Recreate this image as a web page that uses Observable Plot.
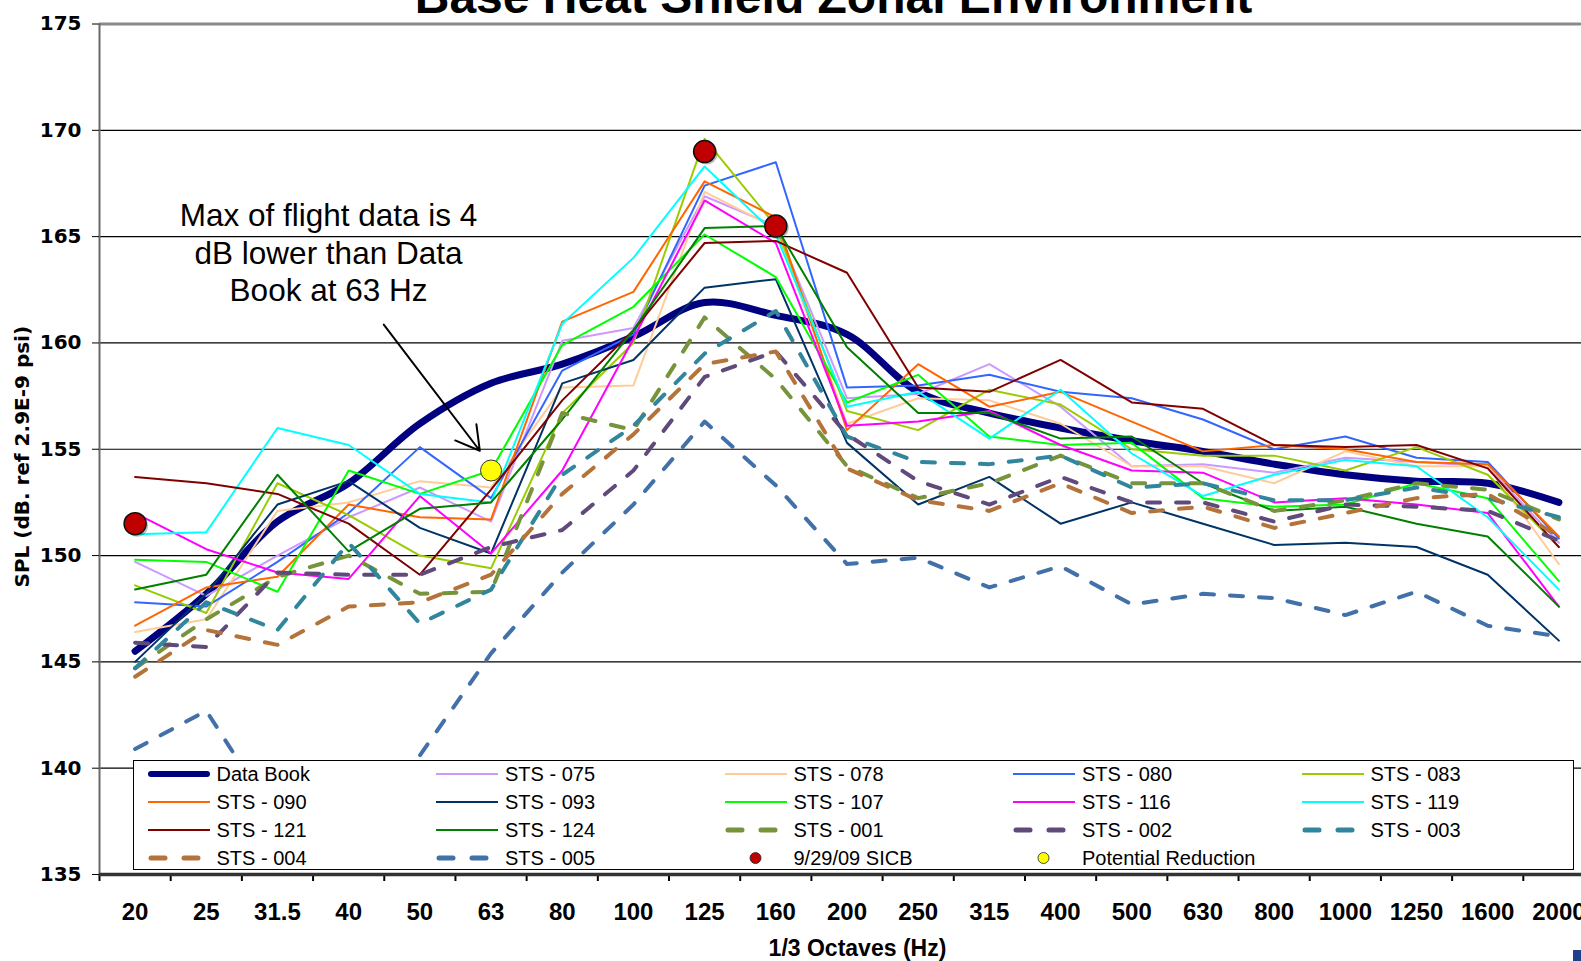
<!DOCTYPE html>
<html>
<head>
<meta charset="utf-8">
<script src="https://cdn.jsdelivr.net/npm/d3@7"></script>
<script src="https://cdn.jsdelivr.net/npm/@observablehq/plot@0.6"></script>
<style>
html, body { margin:0; padding:0; overflow:hidden; background:#fff; width:1581px; height:961px; }
#wrap { position:relative; width:1594px; height:961px; }
#wrap svg { max-width:none !important; position:absolute; left:0; top:0; }
#legend { position:absolute; left:132.5px; top:759.5px; width:1441px; height:110.5px; box-sizing:border-box;
  border:1.5px solid #000; background:#fff; font-family:"Liberation Sans", Arial, sans-serif; font-size:20px; color:#000; }
#legend .sw { position:absolute; width:66px; height:16px; overflow:visible; }
#legend .lb { position:absolute; height:24px; line-height:24px; white-space:nowrap; }
#corner { position:absolute; left:1573px; top:950px; width:10px; height:11px; background:#1f3f8f; }
</style>
</head>
<body>
<div id="wrap"><div id="legend"></div><div id="corner"></div></div>
<script>
// ---- data ----
const categories = ["20","25","31.5","40","50","63","80","100","125","160","200","250","315","400","500","630","800","1000","1250","1600","2000"];
const yTicks = [135,140,145,150,155,160,165,170,175];

const dataBook = [145.5,148.2,151.6,153.4,156.2,158.1,159.0,160.3,161.9,161.3,160.4,157.7,156.7,156.0,155.4,154.9,154.3,153.8,153.5,153.4,152.5];
const sts075 = [149.7,148.1,150.0,151.8,153.2,151.6,160.1,160.7,166.9,165.5,157.4,157.6,159.0,157.0,154.2,154.3,153.9,154.6,154.4,154.2,150.6];
const sts078 = [146.4,147.0,152.1,152.5,153.5,153.2,157.9,158.0,167.1,165.4,156.2,157.4,157.3,156.2,154.2,154.2,153.4,154.9,154.2,154.2,149.6];
const sts080 = [147.8,147.6,149.7,152.0,155.1,152.7,158.7,160.4,167.4,168.5,157.9,158.0,158.5,157.7,157.4,156.4,155.0,155.6,154.6,154.4,150.8];
const sts083 = [148.6,147.3,153.4,151.9,150.0,149.4,156.7,160.0,169.6,165.5,156.8,155.9,157.8,157.1,155.0,154.7,154.7,154.0,155.1,153.8,150.4];
const sts090 = [146.7,148.5,149.0,152.4,151.8,151.7,161.0,162.4,167.6,165.9,155.9,159.0,157.0,157.7,156.3,154.9,155.2,155.0,154.4,154.3,150.9];
const sts093 = [145.0,148.2,152.4,153.5,151.3,150.1,158.1,159.2,162.6,163.0,155.3,152.4,153.7,151.5,152.5,151.5,150.5,150.6,150.4,149.1,146.0];
const sts107 = [149.8,149.7,148.3,154.0,152.9,154.0,159.9,161.7,165.1,163.1,157.2,158.5,155.6,155.2,155.3,152.7,152.3,152.4,153.4,152.7,148.8];
const sts116 = [152.0,150.3,149.2,148.9,152.8,150.1,154.0,160.2,166.7,164.7,156.1,156.3,156.8,155.2,154.0,153.9,152.5,152.7,152.4,152.0,147.6];
const sts119 = [151.0,151.1,156.0,155.2,152.9,152.5,160.9,164.0,168.3,165.1,157.0,157.7,155.5,157.8,154.8,152.8,153.8,154.5,154.2,151.8,148.4];
const sts121 = [153.7,153.4,152.9,151.5,149.1,153.1,157.3,160.6,164.7,164.8,163.3,157.9,157.7,159.2,157.2,156.9,155.2,155.1,155.2,154.1,150.4];
const sts124 = [148.4,149.1,153.8,150.2,152.2,152.5,156.4,160.6,165.4,165.5,159.8,156.7,156.7,155.5,155.6,153.4,152.1,152.3,151.5,150.9,147.6];
const sts001 = [144.7,147.0,149.0,150.0,148.2,148.3,156.7,155.9,161.2,158.3,154.2,152.7,153.4,154.7,153.4,153.4,152.1,152.6,153.4,153.1,151.7];
const sts002 = [145.9,145.7,149.2,149.1,149.1,150.4,151.2,154.0,158.4,159.6,155.7,153.5,152.4,153.7,152.5,152.5,151.6,152.4,152.3,152.1,150.7];
const sts003 = [144.7,147.8,146.5,150.6,146.8,148.4,153.8,156.1,159.5,161.5,155.6,154.4,154.3,154.7,153.2,153.4,152.6,152.6,153.2,152.7,151.8];
const sts004 = [144.3,146.5,145.8,147.6,147.8,149.1,152.9,155.7,159.0,159.6,154.1,152.6,152.1,153.4,152.0,152.3,151.3,152.0,152.7,152.9,150.9];
const sts005 = [140.9,142.7,137.5,137.8,140.6,145.4,149.2,152.4,156.3,153.3,149.6,149.9,148.5,149.5,147.7,148.2,148.0,147.2,148.3,146.7,146.2];

const seriesNames  = ["Data Book","STS - 075","STS - 078","STS - 080","STS - 083","STS - 090","STS - 093","STS - 107","STS - 116","STS - 119","STS - 121","STS - 124","STS - 001","STS - 002","STS - 003","STS - 004","STS - 005"];
const seriesValues = [dataBook,sts075,sts078,sts080,sts083,sts090,sts093,sts107,sts116,sts119,sts121,sts124,sts001,sts002,sts003,sts004,sts005];
const seriesColors = ["#000080","#CC99FF","#FFCC99","#3366FF","#99CC00","#FF6600","#003366","#00FF00","#FF00FF","#00FFFF","#800000","#008000","#77933C","#604A7B","#31859C","#B4733A","#4270A8"];
const seriesDashed = [false,false,false,false,false,false,false,false,false,false,false,false,true,true,true,true,true];

const sicbCat = ["20","125","160"];
const sicbVal = [151.5,169.0,165.5];
const reductionCat = ["63"];
const reductionVal = [154.0];

const annotationText = "Max of flight data is 4\ndB lower than Data\nBook at 63 Hz";
const titleText = "Base Heat Shield Zonal Environment";
const xTitle = "1/3 Octaves (Hz)";
const yTitle = "SPL (dB. ref 2.9E-9 psi)";

// ---- build ----
const idx = c => categories.indexOf(c);
const sicb = sicbCat.map((c,k) => ({i: idx(c), v: sicbVal[k]}));
const reduction = reductionCat.map((c,k) => ({i: idx(c), v: reductionVal[k]}));

const lineMarks = seriesNames.map((name,k) => {
  const pts = seriesValues[k].map((v,i) => ({i, v}));
  if (k === 0) return Plot.line(pts, {x:"i", y:"v", stroke: seriesColors[k], strokeWidth: 7, curve: "catmull-rom", strokeLinecap:"round"});
  if (seriesDashed[k]) return Plot.line(pts, {x:"i", y:"v", stroke: seriesColors[k], strokeWidth: 4, strokeDasharray: "13,16", strokeLinecap: "round"});
  return Plot.line(pts, {x:"i", y:"v", stroke: seriesColors[k], strokeWidth: 2});
});

const chart = Plot.plot({
  width: 1594, height: 961,
  marginLeft: 99, marginRight: 0, marginTop: 23.5, marginBottom: 87,
  x: {type: "linear", domain: [-0.5, 20.5]},
  y: {domain: [135, 175]},
  style: {fontFamily: "Liberation Sans, Arial, sans-serif", background: "transparent", overflow: "visible", maxWidth: "none"},
  marks: [
    Plot.ruleY(yTicks.filter(t => t > 135 && t < 175), {stroke: "#000", strokeWidth: 1.2}),
    Plot.ruleY([175], {stroke: "#8a8a8a", strokeWidth: 3}),
    Plot.ruleX([-0.5], {stroke: "#6a6a6a", strokeWidth: 2}),
    Plot.axisY({ticks: yTicks, tickSize: 7, tickPadding: 11, label: null, color: "#000",
      fontSize: 20, fontWeight: "bold", fontFamily: "DejaVu Sans"}),
    Plot.axisX({ticks: d3.range(-0.5, 21, 1), tickSize: 7, tickFormat: () => "", label: null, color: "#000", strokeWidth: 2}),
    Plot.axisX({ticks: d3.range(0, 21), tickSize: 0, tickPadding: 28, tickFormat: i => categories[i], label: null, color: "#000",
      fontSize: 24, fontWeight: "bold", fontFamily: "Liberation Sans"}),
    Plot.ruleY([135], {stroke: "#333", strokeWidth: 3.5}),
    ...lineMarks,
    Plot.dot(sicb, {x: "i", y: "v", r: 11, fill: "#000", fillOpacity: 0.25, dx: 2, dy: 2}),
    Plot.dot(sicb, {x: "i", y: "v", r: 11, fill: "#C00000", stroke: "#111", strokeWidth: 1.5}),
    Plot.dot(reduction, {x: "i", y: "v", r: 10.5, fill: "#FFFF00", stroke: "#333", strokeWidth: 1}),
    Plot.arrow([{x1: 3.493, y1: 160.86, x2: 4.842, y2: 154.93}], {x1: "x1", y1: "y1", x2: "x2", y2: "y2",
      stroke: "#000", strokeWidth: 2, headLength: 20}),
    Plot.text([annotationText], {x: 2.717, y: 164.3, text: d => d, fontSize: 31.5, lineHeight: 1.2,
      textAnchor: "middle", lineAnchor: "middle", fontFamily: "Liberation Sans", fill: "#000"}),
    Plot.text([titleText], {x: 9.81, y: 175.54, text: d => d, fontSize: 48, fontWeight: "bold",
      textAnchor: "middle", lineAnchor: "bottom", fontFamily: "Liberation Sans", fill: "#000"}),
    Plot.text([xTitle], {x: 10.147, y: 131.52, text: d => d, fontSize: 23, fontWeight: "bold",
      textAnchor: "middle", lineAnchor: "middle", fontFamily: "Liberation Sans", fill: "#000"}),
    Plot.text([yTitle], {x: -1.579, y: 154.65, text: d => d, fontSize: 20, fontWeight: "bold", rotate: -90,
      textAnchor: "middle", lineAnchor: "middle", fontFamily: "DejaVu Sans", fill: "#000"})
  ]
});
const wrap = document.getElementById("wrap");
wrap.insertBefore(chart, wrap.firstChild);

// ---- legend (HTML overlay, like the original's boxed legend) ----
const legend = document.getElementById("legend");
const items = seriesNames.map((name,k) => ({label: name, color: seriesColors[k], kind: k === 0 ? "thick" : (seriesDashed[k] ? "dash" : "solid")}));
items.push({label: "9/29/09 SICB", color: "#C00000", kind: "dot"});
items.push({label: "Potential Reduction", color: "#FFFF00", kind: "dot"});
const ns = "http://www.w3.org/2000/svg";
items.forEach((it, k) => {
  const r = Math.floor(k / 5), c = k % 5;
  const sx = 148 + c * 288.5 - 134;
  const cy = 774.5 + r * 28 - 761;
  const svg = document.createElementNS(ns, "svg");
  svg.setAttribute("class", "sw");
  svg.setAttribute("width", 66); svg.setAttribute("height", 16);
  svg.style.left = (sx - 2) + "px"; svg.style.top = (cy - 8) + "px";
  if (it.kind === "dot") {
    const ci = document.createElementNS(ns, "circle");
    ci.setAttribute("cx", 32.5); ci.setAttribute("cy", 8); ci.setAttribute("r", 5.5);
    ci.setAttribute("fill", it.color); ci.setAttribute("stroke", "#222"); ci.setAttribute("stroke-width", 0.8);
    svg.appendChild(ci);
  } else {
    const ln = document.createElementNS(ns, "line");
    ln.setAttribute("y1", 8); ln.setAttribute("y2", 8); ln.setAttribute("stroke", it.color);
    if (it.kind === "thick") { ln.setAttribute("x1", 5); ln.setAttribute("x2", 61); ln.setAttribute("stroke-width", 6); ln.setAttribute("stroke-linecap", "round"); }
    else if (it.kind === "dash") { ln.setAttribute("x1", 5); ln.setAttribute("x2", 53); ln.setAttribute("stroke-width", 5); ln.setAttribute("stroke-linecap", "round"); ln.setAttribute("stroke-dasharray", "14 19"); }
    else { ln.setAttribute("x1", 2); ln.setAttribute("x2", 64); ln.setAttribute("stroke-width", 2); }
    svg.appendChild(ln);
  }
  legend.appendChild(svg);
  const lb = document.createElement("div");
  lb.className = "lb";
  lb.textContent = it.label;
  lb.style.left = (sx + 69) + "px";
  lb.style.top = (cy - 12) + "px";
  legend.appendChild(lb);
});
</script>
</body>
</html>
